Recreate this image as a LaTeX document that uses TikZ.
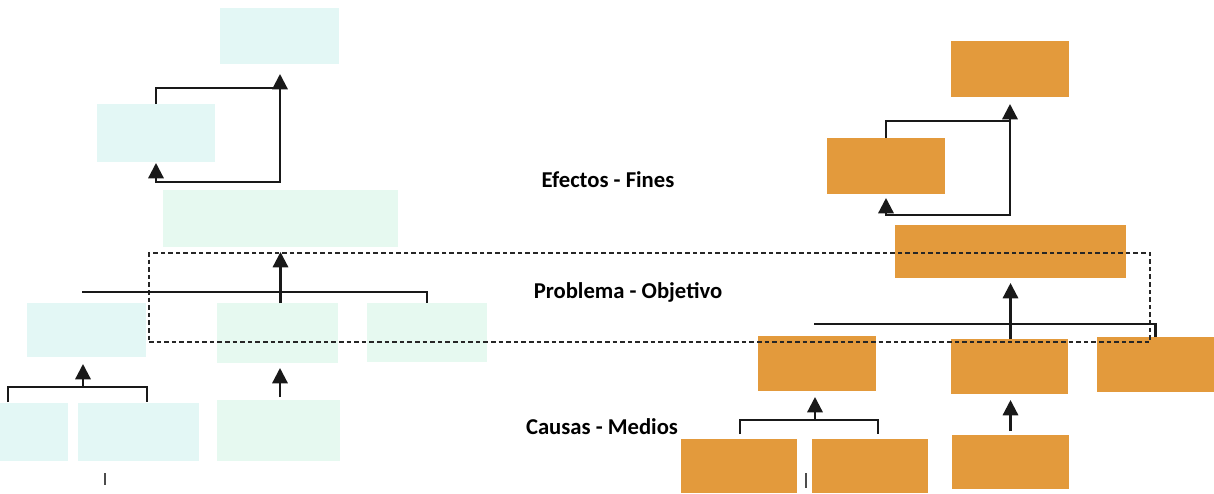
\documentclass[tikz,border=0pt]{standalone}
\usepackage{fontspec}
\setmainfont{Carlito}
\usetikzlibrary{arrows.meta,fit}
\definecolor{cyanbox}{HTML}{E3F7F5}
\definecolor{mintbox}{HTML}{E6F9F0}
\definecolor{orangebox}{HTML}{E39A3C}
\begin{document}
\begin{tikzpicture}[x=0.75pt,y=-0.75pt,
  box/.style={inner sep=0pt, outer sep=0pt, draw=none},
  cbox/.style={box, fill=cyanbox},
  mbox/.style={box, fill=mintbox},
  obox/.style={box, fill=orangebox},
  link/.style={line width=1.7pt, black!90},
  arr/.style={link, -{Triangle[width=11.5pt,length=11.5pt]}},
  band/.style={draw=black!85, line width=1.2pt, dash pattern=on 3.5pt off 2.2pt, inner sep=0pt},
  lbl/.style={font=\bfseries\fontsize{17}{20}\selectfont, text=black},
  tick/.style={line width=1.4pt, gray!60!black}]
\fill[white] (0,0) rectangle (1214,493);
\useasboundingbox (0,0) rectangle (1214,493);

% ---- left tree ----
\node[cbox, fit={(220,8) (339,64)}] (l1) {};
\node[cbox, fit={(97,104) (215,162)}] (l2) {};
\node[mbox, fit={(163,190) (398,247)}] (l3) {};
\node[cbox, fit={(27,303) (146,357)}] (l4a) {};
\node[mbox, fit={(217,303) (338,363)}] (l4b) {};
\node[mbox, fit={(367,303) (487,362)}] (l4c) {};
\node[cbox, fit={(0,403) (68,461)}] (l5a) {};
\node[cbox, fit={(78,403) (199,461)}] (l5b) {};
\node[mbox, fit={(217,400) (340,461)}] (l5c) {};

% ---- right tree ----
\node[obox, fit={(951,41) (1069,97)}] (r1) {};
\node[obox, fit={(827,138) (945,194)}] (r2) {};
\node[obox, fit={(895,225) (1126,278)}] (r3) {};
\node[obox, fit={(758,336) (876,391)}] (r4a) {};
\node[obox, fit={(951,339) (1068,394)}] (r4b) {};
\node[obox, fit={(1097,337) (1214,392)}] (r4c) {};
\node[obox, fit={(681,439) (797,493)}] (r5a) {};
\node[obox, fit={(812,439) (928,493)}] (r5b) {};
\node[obox, fit={(952,435) (1069,489)}] (r5c) {};

% ---- dashed band ----
\node[band, fit={(149,253) (1150,342)}] (band) {};

% ---- left connectors ----
\coordinate (lj1) at (280,88);
\coordinate (lj2) at (280,182);
\draw[arr, shorten >=7.5pt] (l2.north) |- (lj1) -- (l1.south -| lj1);
\draw[arr, shorten >=0.75pt] (lj1) -- (lj2) -| (l2.south);
\draw[arr, shorten >=3.75pt] (l3.south |- l4b.north) -- (l3.south);
\coordinate (lbar) at (82,292);
\draw[link] (lbar) -| (l4c.north);
\coordinate (lb1) at (8,402);
\coordinate (lb2) at (147,402);
\coordinate (lbm) at (83,387);
\draw[link] (lb1) |- (lbm) -| (lb2);
\draw[arr, shorten >=5.25pt] (lbm) -- (l4a.south -| lbm);
\draw[arr, shorten >=3.75pt, shorten <=2.25pt] (l5c.north -| lj1) -- (l4b.south -| lj1);

% ---- right connectors ----
\coordinate (rj1) at (1010,121);
\coordinate (rj2) at (1010,215);
\draw[arr, shorten >=5.25pt] (r2.north) |- (rj1) -- (r1.south -| rj1);
\draw[arr, shorten >=3pt] (rj1) -- (rj2) -| (r2.south);
\draw[arr, shorten >=3.75pt] (r3.south |- r4b.north) -- (r3.south);
\coordinate (rbar) at (814,324);
\draw[link] (rbar) -| (r4c.north);
\coordinate (rb1) at (740,434);
\coordinate (rb2) at (878,434);
\coordinate (rbm) at (815,420);
\draw[link] (rb1) |- (rbm) -| (rb2);
\draw[arr, shorten >=4.5pt] (rbm) -- (r4a.south -| rbm);
\draw[arr, shorten >=4.5pt, shorten <=3pt] (r5c.north -| r3.south) -- (r4b.south -| r3.south);

% ---- small marks ----
\draw[tick] (105,473) -- (105,485);
\draw[tick] (806,473) -- (806,488);

% ---- labels ----
\node[lbl] (t1) at (608,180) {Efectos - Fines};
\node[lbl] (t2) at (628,292) {Problema - Objetivo};
\node[lbl] (t3) at (602,427) {Causas - Medios};
\end{tikzpicture}
\end{document}
